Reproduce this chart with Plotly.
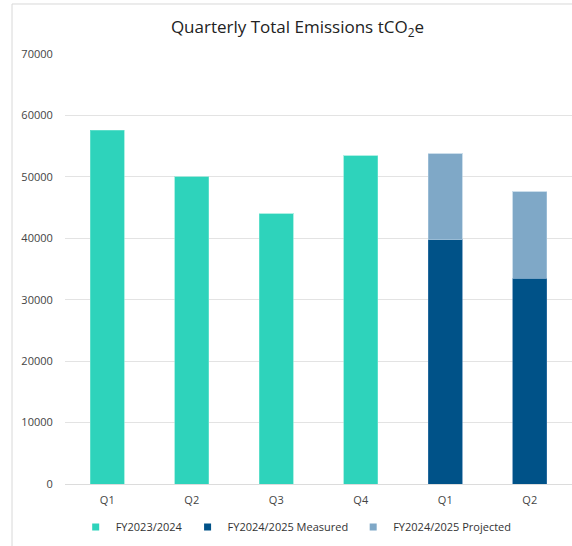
import plotly.graph_objects as go

tick_labels = ["Q1", "Q2", "Q3", "Q4", "Q1", "Q2"]
fy2324_vals = [57600, 50000, 44000, 53400]
fy2425_measured = [39800, 33500]
fy2425_projected_total = [53800, 47600]
fy2425_projected = [t - m for t, m in zip(fy2425_projected_total, fy2425_measured)]

x_fy2324 = [0, 1, 2, 3]
x_fy2425 = [4, 5]

TEAL = "rgb(46,211,187)"
DARK = "rgb(0,82,136)"
LIGHT = "rgb(127,168,199)"

FONT = "Open Sans"
fig = go.Figure()
fig.add_trace(go.Bar(x=x_fy2324, y=fy2324_vals, name="FY2023/2024", showlegend=False,
                     marker=dict(color=TEAL, line=dict(width=1, color="rgba(120,230,210,0.6)"))))
fig.add_trace(go.Bar(x=x_fy2425, y=fy2425_measured, name="FY2024/2025 Measured", showlegend=False,
                     marker=dict(color=DARK, line=dict(width=1, color="rgba(60,120,170,0.6)"))))
fig.add_trace(go.Bar(x=x_fy2425, y=fy2425_projected, name="FY2024/2025 Projected", showlegend=False,
                     marker=dict(color=LIGHT, line=dict(width=1, color="rgba(170,200,222,0.6)"))))

# legend entries with small square symbols
for nm, col in [("FY2023/2024", TEAL), ("FY2024/2025 Measured", DARK), ("FY2024/2025 Projected", LIGHT)]:
    fig.add_trace(go.Scatter(x=[None], y=[None], mode="markers", name=nm,
                             marker=dict(symbol="square", size=7, color=col)))

fig.update_layout(
    barmode="stack",
    bargap=0.6,
    width=572, height=546,
    margin=dict(l=65, r=0, t=54, b=62),
    paper_bgcolor="white", plot_bgcolor="white",
    font=dict(family=FONT, color="#444", size=11),
    title=dict(text="Quarterly Total Emissions tCO<sub>2</sub>e", x=0.52, xanchor="center",
               y=0.95, yanchor="middle", font=dict(size=17, color="#222", family=FONT)),
    xaxis=dict(tickmode="array", tickvals=list(range(6)), ticktext=tick_labels,
               range=[-0.5, 5.5], showgrid=False, ticks="outside", ticklen=6, tickcolor="white",
               showline=False, zeroline=False),
    yaxis=dict(range=[0, 70000], dtick=10000, showgrid=True, gridcolor="#e3e3e3", gridwidth=1.2,
               zeroline=True, zerolinecolor="#dcdcdc", zerolinewidth=1.2,
               ticks="outside", ticklen=9, tickcolor="white", tickformat="d"),
    legend=dict(orientation="h", x=0.456, xanchor="center", y=-0.1, yanchor="middle",
                font=dict(size=11, color="#333"), itemwidth=30, traceorder="normal"),
    showlegend=True,
    shapes=[dict(type="rect", xref="paper", yref="paper", x0=-0.1045, x1=1.2, y0=-0.3, y1=1.1163,
                 line=dict(color="#d8d8d8", width=1), fillcolor="rgba(0,0,0,0)", layer="below")],
)
fig.write_html("out.html", config={"displayModeBar": False},
               post_script="document.body.style.margin='0';document.body.style.overflow='hidden';")
